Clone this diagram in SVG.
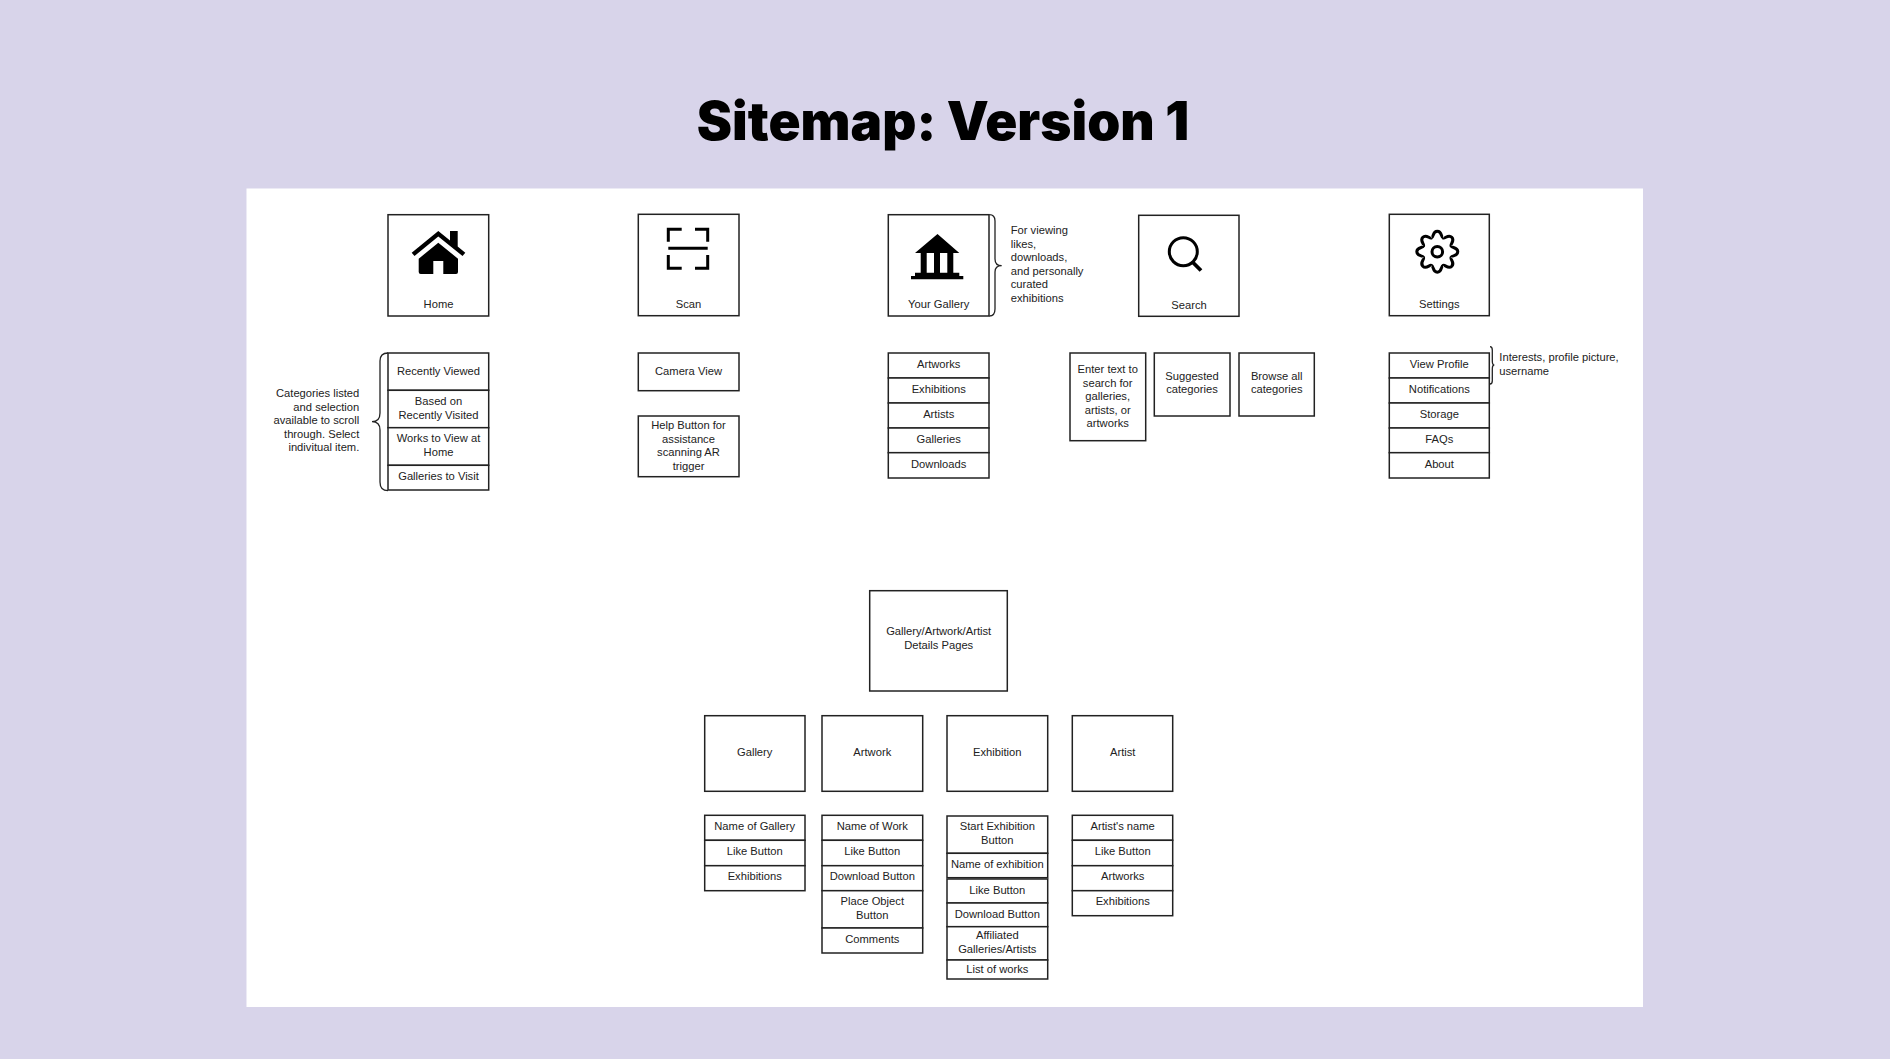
<svg xmlns="http://www.w3.org/2000/svg" xmlns:xlink="http://www.w3.org/1999/xlink" width="1890" height="1059" viewBox="0 0 1890 1059">
<style>
.b{fill:#fff;stroke:#222;stroke-width:1.5}
.t{font-family:"Liberation Sans",Arial,sans-serif;font-size:11.2px;fill:#222;text-anchor:middle}
.l{text-anchor:start}
.r{text-anchor:end}
.br{fill:none;stroke:#222;stroke-width:1.3}
.ic{fill:#000}
.st{fill:none;stroke:#000;stroke-width:3}
</style>
<defs>
<path id="tooth" d="M-5.74,-13.86C-3.5,-14 -5,-20.5 0,-20.5C5,-20.5 3.5,-14 5.74,-13.86" fill="none" stroke="#000" stroke-width="3"/>
</defs>
<rect width="1890" height="1059" fill="#d8d4ea"/>
<rect x="246.500" y="188.500" width="1396.500" height="818.500" fill="#fff"/>
<text id="title" x="943" y="139.500" font-family="Inter,'Open Sans',sans-serif" font-weight="900" font-size="53" fill="#000" text-anchor="middle">Sitemap: Version 1</text>
<g id="connectors">
<path class="br" d="M388,353Q380,353 380,361V413Q380,421.700 372,421.700Q380,421.700 380,430V482Q380,490.700 388,490.700"/>
<path class="br" d="M989.300,214.700Q995,214.700 995,221V259Q995,265.700 1001.700,265.700Q995,265.700 995,272V309Q995,316 989.300,316"/>
<path class="br" d="M1490,346.700Q1492.300,346.700 1492.300,350V361Q1492.300,365 1494.300,365Q1492.300,365 1492.300,369V380.700Q1492.300,384 1490,384"/>
</g>
<g id="home"><rect class="b" x="388" y="214.700" width="100.700" height="101.300"/>
<path class="ic" d="M450,231H457.700V246.500L465.300,252.800L462.500,256L438.300,236.500L414.500,256L411.700,252.800L438.300,231L450,240.500Z"/>
<path class="ic" d="M438.300,242.700L458,258.700V272Q458,274 456,274H443.300V261H433.300V274H420.700Q418.700,274 418.700,272V258.700Z"/>
<text class="t" x="438.500" y="308.300">Home</text></g>
<g id="scan"><rect class="b" x="638.300" y="214.300" width="100.700" height="101.400"/>
<path class="st" d="M668.300,241.700V229.300H681.700M695,229.300H707.700V241.700M668.300,255V268.300H681.700M695,268.300H707.700V255M668.300,248.300H707.700"/>
<text class="t" x="688.500" y="308">Scan</text></g>
<g id="your-gallery"><rect class="b" x="888.300" y="214.700" width="100.700" height="101.300"/>
<path class="ic" d="M937.500,234L959.300,253H953.300V272.700H959.300V276H963.300V279.300H911V276H915V272.700H920.700V253H915ZM926.700,253V272.700H934V253ZM940,253V272.700H947.300V253Z"/>
<text class="t" x="938.700" y="308.300">Your Gallery</text></g>
<g id="search"><rect class="b" x="1138.700" y="215.300" width="100.300" height="101"/>
<circle class="st" cx="1183.300" cy="251.700" r="14"/>
<path d="M1192,261.500L1201,270.500" fill="none" stroke="#000" stroke-width="3.800"/>
<text class="t" x="1189" y="308.700">Search</text></g>
<g id="settings"><rect class="b" x="1389.300" y="214.300" width="100" height="101.400"/>
<g transform="translate(1437.300,251.700)"><use xlink:href="#tooth"/><use xlink:href="#tooth" transform="rotate(45)"/><use xlink:href="#tooth" transform="rotate(90)"/><use xlink:href="#tooth" transform="rotate(135)"/><use xlink:href="#tooth" transform="rotate(180)"/><use xlink:href="#tooth" transform="rotate(225)"/><use xlink:href="#tooth" transform="rotate(270)"/><use xlink:href="#tooth" transform="rotate(315)"/><circle class="st" r="5.300"/></g>
<text class="t" x="1439.300" y="308">Settings</text></g>

<g id="note-home"><text class="t r" x="359.300" y="397.300">Categories listed</text><text class="t r" x="359.300" y="410.800">and selection</text><text class="t r" x="359.300" y="424.300">available to scroll</text><text class="t r" x="359.300" y="437.800">through. Select</text><text class="t r" x="359.300" y="451.300">indivitual item.</text></g>
<g id="home-recent"><rect class="b" x="388" y="353" width="100.700" height="37.300"/><text class="t" x="438.500" y="375">Recently Viewed</text></g>
<g id="home-based"><rect class="b" x="388" y="390.300" width="100.700" height="37.400"/><text class="t" x="438.500" y="405">Based on</text><text class="t" x="438.500" y="418.500">Recently Visited</text></g>
<g id="home-works"><rect class="b" x="388" y="427.700" width="100.700" height="37.600"/><text class="t" x="438.500" y="442">Works to View at</text><text class="t" x="438.500" y="455.700">Home</text></g>
<g id="home-visit"><rect class="b" x="388" y="465.300" width="100.700" height="24.700"/><text class="t" x="438.500" y="480">Galleries to Visit</text></g>

<g id="scan-camera"><rect class="b" x="638.300" y="353" width="100.700" height="37.700"/><text class="t" x="688.500" y="375">Camera View</text></g>
<g id="scan-help"><rect class="b" x="638.300" y="416" width="100.700" height="60.700"/><text class="t" x="688.500" y="429">Help Button for</text><text class="t" x="688.500" y="442.500">assistance</text><text class="t" x="688.500" y="456">scanning AR</text><text class="t" x="688.500" y="469.500">trigger</text></g>

<g id="note-gallery"><text class="t l" x="1010.700" y="234.300">For viewing</text><text class="t l" x="1010.700" y="247.800">likes,</text><text class="t l" x="1010.700" y="261.300">downloads,</text><text class="t l" x="1010.700" y="274.800">and personally</text><text class="t l" x="1010.700" y="288.300">curated</text><text class="t l" x="1010.700" y="301.800">exhibitions</text></g>
<g id="yg-artworks"><rect class="b" x="888.300" y="353" width="100.700" height="25"/><text class="t" x="938.700" y="367.700">Artworks</text></g>
<g id="yg-exhibitions"><rect class="b" x="888.300" y="378" width="100.700" height="25"/><text class="t" x="938.700" y="392.700">Exhibitions</text></g>
<g id="yg-artists"><rect class="b" x="888.300" y="403" width="100.700" height="25"/><text class="t" x="938.700" y="417.700">Artists</text></g>
<g id="yg-galleries"><rect class="b" x="888.300" y="428" width="100.700" height="24.700"/><text class="t" x="938.700" y="443">Galleries</text></g>
<g id="yg-downloads"><rect class="b" x="888.300" y="452.700" width="100.700" height="25.300"/><text class="t" x="938.700" y="468">Downloads</text></g>

<g id="search-enter"><rect class="b" x="1070" y="353" width="75.700" height="87.700"/><text class="t" x="1107.700" y="373">Enter text to</text><text class="t" x="1107.700" y="386.500">search for</text><text class="t" x="1107.700" y="400">galleries,</text><text class="t" x="1107.700" y="413.500">artists, or</text><text class="t" x="1107.700" y="427">artworks</text></g>
<g id="search-suggested"><rect class="b" x="1154.300" y="353" width="75.700" height="63"/><text class="t" x="1192" y="379.700">Suggested</text><text class="t" x="1192" y="393">categories</text></g>
<g id="search-browse"><rect class="b" x="1239" y="353" width="75.300" height="63"/><text class="t" x="1276.700" y="379.700">Browse all</text><text class="t" x="1276.700" y="393">categories</text></g>

<g id="note-settings"><text class="t l" x="1499.300" y="361.300">Interests, profile picture,</text><text class="t l" x="1499.300" y="374.800">username</text></g>
<g id="set-profile"><rect class="b" x="1389.300" y="353" width="100" height="25"/><text class="t" x="1439.300" y="367.700">View Profile</text></g>
<g id="set-notifications"><rect class="b" x="1389.300" y="378" width="100" height="25"/><text class="t" x="1439.300" y="392.700">Notifications</text></g>
<g id="set-storage"><rect class="b" x="1389.300" y="403" width="100" height="25"/><text class="t" x="1439.300" y="417.700">Storage</text></g>
<g id="set-faqs"><rect class="b" x="1389.300" y="428" width="100" height="24.700"/><text class="t" x="1439.300" y="443">FAQs</text></g>
<g id="set-about"><rect class="b" x="1389.300" y="452.700" width="100" height="25.300"/><text class="t" x="1439.300" y="468">About</text></g>

<g id="details"><rect class="b" x="869.700" y="590.700" width="137.600" height="100.300"/><text class="t" x="938.700" y="635.300">Gallery/Artwork/Artist</text><text class="t" x="938.700" y="649">Details Pages</text></g>
<g id="gallery"><rect class="b" x="704.700" y="715.700" width="100.300" height="75.600"/><text class="t" x="754.700" y="756.300">Gallery</text></g>
<g id="artwork"><rect class="b" x="822" y="715.700" width="100.700" height="75.600"/><text class="t" x="872.300" y="756.300">Artwork</text></g>
<g id="exhibition"><rect class="b" x="947" y="715.700" width="100.700" height="75.600"/><text class="t" x="997.300" y="756.300">Exhibition</text></g>
<g id="artist"><rect class="b" x="1072.300" y="715.700" width="100.400" height="75.600"/><text class="t" x="1122.700" y="756.300">Artist</text></g>

<g id="g-name"><rect class="b" x="704.700" y="815.300" width="100.300" height="25"/><text class="t" x="754.700" y="830.300">Name of Gallery</text></g>
<g id="g-like"><rect class="b" x="704.700" y="840.300" width="100.300" height="25.400"/><text class="t" x="754.700" y="855.300">Like Button</text></g>
<g id="g-exh"><rect class="b" x="704.700" y="865.700" width="100.300" height="25"/><text class="t" x="754.700" y="880.300">Exhibitions</text></g>

<g id="aw-name"><rect class="b" x="822" y="815.300" width="100.700" height="25"/><text class="t" x="872.300" y="830.300">Name of Work</text></g>
<g id="aw-like"><rect class="b" x="822" y="840.300" width="100.700" height="25.400"/><text class="t" x="872.300" y="855.300">Like Button</text></g>
<g id="aw-download"><rect class="b" x="822" y="865.700" width="100.700" height="25"/><text class="t" x="872.300" y="880.300">Download Button</text></g>
<g id="aw-place"><rect class="b" x="822" y="890.700" width="100.700" height="37.300"/><text class="t" x="872.300" y="905">Place Object</text><text class="t" x="872.300" y="918.700">Button</text></g>
<g id="aw-comments"><rect class="b" x="822" y="928" width="100.700" height="25"/><text class="t" x="872.300" y="943">Comments</text></g>

<g id="ex-start"><rect class="b" x="947" y="816" width="100.700" height="37.300"/><text class="t" x="997.300" y="830.300">Start Exhibition</text><text class="t" x="997.300" y="844">Button</text></g>
<g id="ex-name"><rect class="b" x="947" y="853.300" width="100.700" height="24.400"/><text class="t" x="997.300" y="867.700">Name of exhibition</text></g>
<g id="ex-like"><rect class="b" x="947" y="879" width="100.700" height="24"/><text class="t" x="997.300" y="893.700">Like Button</text></g>
<g id="ex-download"><rect class="b" x="947" y="903" width="100.700" height="23.700"/><text class="t" x="997.300" y="918">Download Button</text></g>
<g id="ex-affiliated"><rect class="b" x="947" y="926.700" width="100.700" height="33.300"/><text class="t" x="997.300" y="939.300">Affiliated</text><text class="t" x="997.300" y="953">Galleries/Artists</text></g>
<g id="ex-works"><rect class="b" x="947" y="960" width="100.700" height="19"/><text class="t" x="997.300" y="973.300">List of works</text></g>

<g id="ar-name"><rect class="b" x="1072.300" y="815.300" width="100.400" height="25"/><text class="t" x="1122.700" y="830.300">Artist's name</text></g>
<g id="ar-like"><rect class="b" x="1072.300" y="840.300" width="100.400" height="25.400"/><text class="t" x="1122.700" y="855.300">Like Button</text></g>
<g id="ar-artworks"><rect class="b" x="1072.300" y="865.700" width="100.400" height="25"/><text class="t" x="1122.700" y="880.300">Artworks</text></g>
<g id="ar-exh"><rect class="b" x="1072.300" y="890.700" width="100.400" height="25"/><text class="t" x="1122.700" y="905.300">Exhibitions</text></g>
</svg>
